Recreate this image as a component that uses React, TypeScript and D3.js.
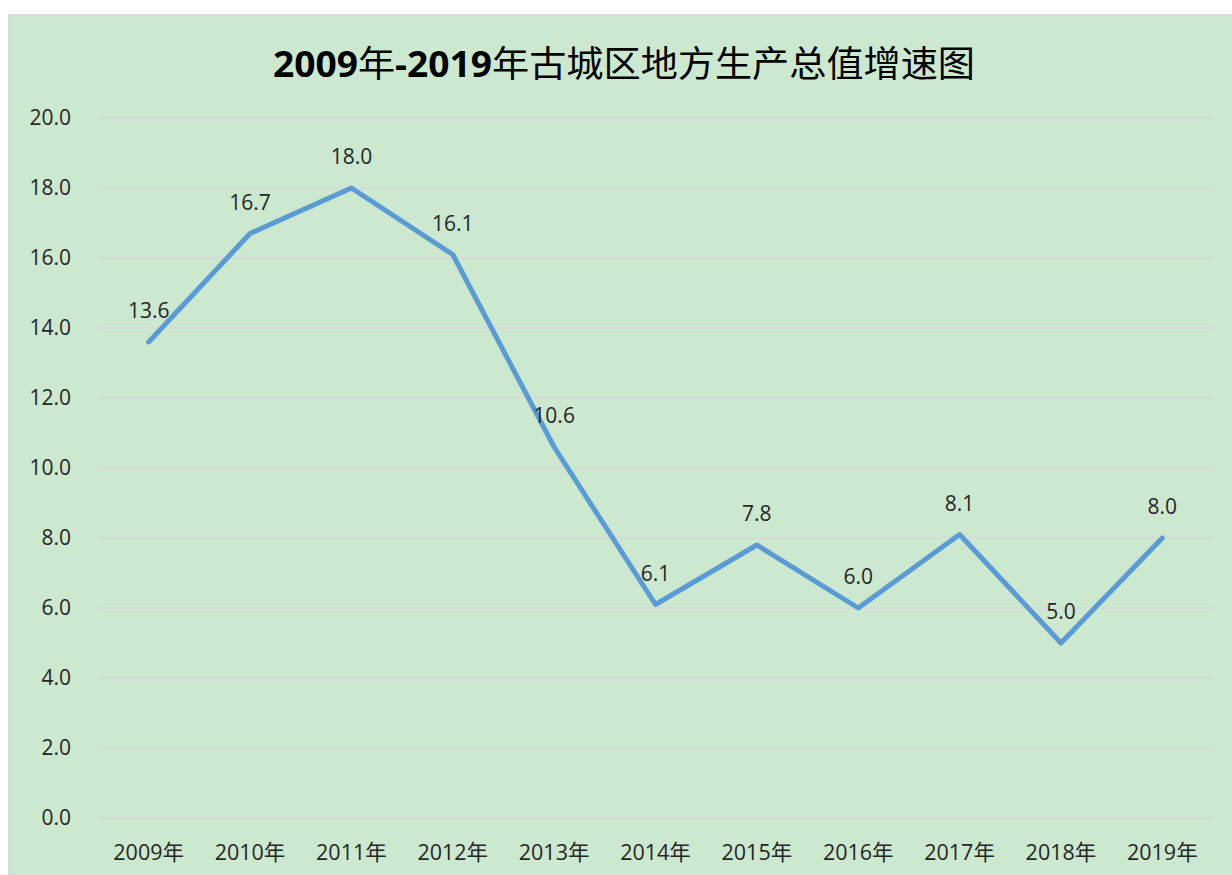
import React from "react";
import * as d3 from "d3";

const categories = ["2009年", "2010年", "2011年", "2012年", "2013年", "2014年", "2015年", "2016年", "2017年", "2018年", "2019年"];
const growth = [13.6, 16.7, 18.0, 16.1, 10.6, 6.1, 7.8, 6.0, 8.1, 5.0, 8.0];
const yTicks = [0, 2, 4, 6, 8, 10, 12, 14, 16, 18, 20];
const titleParts = [
  { t: "2009", b: true }, { t: "年", b: false }, { t: "-2019", b: true }, { t: "年古城区地方生产总值增速图", b: false },
];

const W = 1232, H = 875;
const left = 98, right = 1213, top = 118, bottom = 818;
const FONT = "'Open Sans', 'Noto Sans CJK SC', sans-serif";

export default function App() {
  const x = d3.scaleBand<string>().domain(categories).range([left, right]);
  const y = d3.scaleLinear().domain([0, 20]).range([bottom, top]);
  const cx = (c: string) => (x(c) as number) + x.bandwidth() / 2;
  const line = d3.line<number>().x((_, i) => cx(categories[i])).y((d) => y(d));

  return (
    <svg width={W} height={H} style={{ position: "absolute", left: 0, top: 0 }}>
      <rect x={0} y={0} width={W} height={H} fill="#ffffff" />
      <rect x={9} y={15} width={W} height={H} fill="#cce8cf" stroke="#d9d9d9" strokeWidth={2} />
      <text x={624} y={77} textAnchor="middle" fontFamily={FONT} fontSize={36} fill="#000" textLength={702} lengthAdjust="spacingAndGlyphs">
        {titleParts.map((p, i) => (
          <tspan key={i} fontWeight={p.b ? 700 : 400}>{p.t}</tspan>
        ))}
      </text>
      {yTicks.map((t) => (
        <g key={t}>
          <line x1={left} x2={right} y1={y(t)} y2={y(t)} stroke="#d9d9d9" strokeWidth={1.5} />
          <text x={71} y={y(t)} dy="0.35em" textAnchor="end" fontFamily={FONT} fontSize={21} fill="#262626">
            {t.toFixed(1)}
          </text>
        </g>
      ))}
      {categories.map((c) => (
        <text key={c} x={cx(c)} y={860} textAnchor="middle" fontFamily={FONT} fontSize={21.5} fill="#262626">
          {c}
        </text>
      ))}
      <path d={line(growth) || ""} fill="none" stroke="#5b9bd5" strokeWidth={5} strokeLinejoin="round" strokeLinecap="round" />
      {growth.map((v, i) => (
        <text key={i} x={cx(categories[i])} y={y(v) - 24} textAnchor="middle" fontFamily={FONT} fontSize={21} fill="#262626">
          {v.toFixed(1)}
        </text>
      ))}
    </svg>
  );
}
